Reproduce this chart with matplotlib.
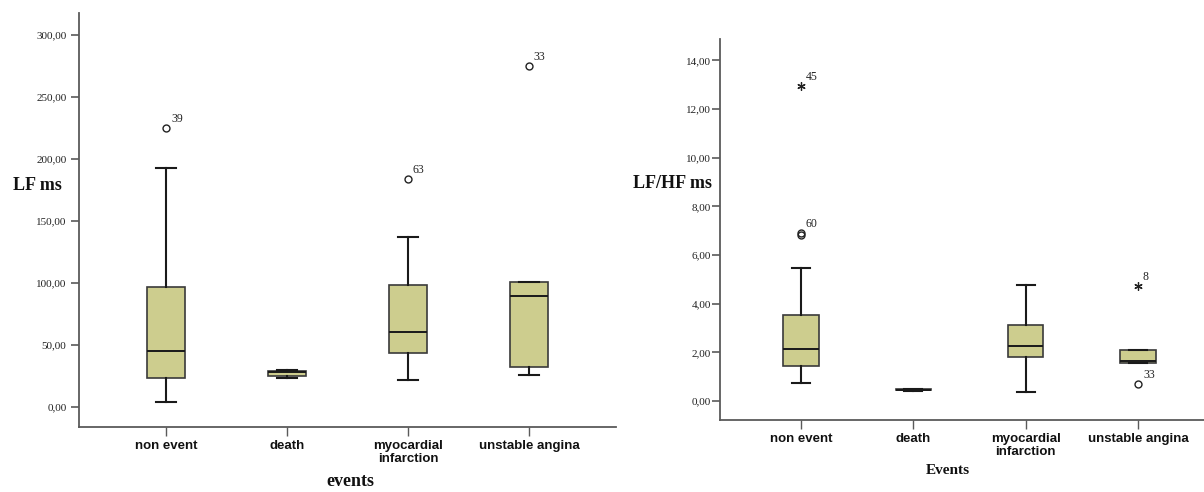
import matplotlib
matplotlib.use("Agg")
import matplotlib.pyplot as plt

# ---------------- data ----------------
categories = ['non event', 'death', 'myocardial\ninfarction', 'unstable angina']

# LF ms (left panel)
lf_whislo = [3.5, 23.2, 21.4, 25.2]
lf_q1 = [22.8, 25.0, 43.4, 32.1]
lf_med = [44.5, 27.8, 59.8, 89.4]
lf_q3 = [96.1, 28.6, 98.0, 100.4]
lf_whishi = [192.6, 29.3, 136.5, 100.8]
lf_out_cat = [0, 2, 3]
lf_out_val = [224.6, 183.5, 274.6]
lf_out_lab = ['39', '63', '33']
lf_out_mark = ['o', 'o', 'o']
lf_ticks = [0, 50, 100, 150, 200, 250, 300]

# LF/HF ms (right panel)
lh_whislo = [0.75, 0.43, 0.36, 1.55]
lh_q1 = [1.45, 0.44, 1.80, 1.55]
lh_med = [2.15, 0.46, 2.25, 1.66]
lh_q3 = [3.53, 0.49, 3.12, 2.10]
lh_whishi = [5.48, 0.51, 4.77, 2.10]
lh_out_cat = [0, 0, 0, 3, 3]
lh_out_val = [12.96, 6.92, 6.84, 4.74, 0.70]
lh_out_lab = ['45', '60', '', '8', '33']
lh_out_mark = ['*', 'o', 'o', '*', 'o']
lh_ticks = [0, 2, 4, 6, 8, 10, 12, 14]

# ---------------- style ----------------
W, H = 1204, 492
BOX_FILL = '#cdcd8e'
EDGE = '#3a3a3a'
SPINE = '#5a5a5a'
SERIF = 'Liberation Serif'
SANS = 'Liberation Sans'

fig = plt.figure(figsize=(W / 100, H / 100), dpi=100)
fig.patch.set_facecolor('white')


def px_axes(x0, x1, ytop, ybot):
    return fig.add_axes([x0 / W, 1 - ybot / H, (x1 - x0) / W, (ybot - ytop) / H])


def draw_panel(ax, whislo, q1, med, q3, whishi, out_cat, out_val, out_lab,
               out_mark, ticks, xlim, ylim, width, tick_pad):
    stats = []
    for i in range(len(categories)):
        stats.append(dict(whislo=whislo[i], q1=q1[i], med=med[i], q3=q3[i],
                          whishi=whishi[i], fliers=[], label=categories[i]))
    pos = list(range(len(categories)))
    ax.bxp(stats, positions=pos, widths=width, showfliers=False,
           patch_artist=True, capwidths=width / 2,
           boxprops=dict(facecolor=BOX_FILL, edgecolor=EDGE, linewidth=1.2),
           medianprops=dict(color='#1a1a1a', linewidth=1.4),
           whiskerprops=dict(color='#1a1a1a', linewidth=1.5),
           capprops=dict(color='#1a1a1a', linewidth=1.5))
    for c, v, lab, m in zip(out_cat, out_val, out_lab, out_mark):
        if m == 'o':
            ax.plot(c, v, marker='o', markersize=5, markerfacecolor='none',
                    markeredgecolor='#222222', markeredgewidth=1.0,
                    linestyle='none', clip_on=False)
        else:
            ax.plot(c, v, marker=(6, 2, 0), markersize=6,
                    markeredgecolor='#222222', markeredgewidth=0.9,
                    linestyle='none', clip_on=False)
        if lab:
            ax.annotate(lab, (c, v), xytext=(3.5, 6.5), textcoords='offset points',
                        ha='left', va='center', fontsize=8.5, family=SERIF,
                        color='#222222')
    ax.set_xlim(*xlim)
    ax.set_ylim(*ylim)
    ax.set_yticks(ticks)
    ax.set_yticklabels([('%.2f' % t).replace('.', ',') for t in ticks],
                       fontsize=8, family=SERIF, color='#222222')
    ax.set_xticks(pos)
    ax.set_xticklabels(categories, fontsize=9.5, family=SANS, fontweight='bold',
                       color='#111111', linespacing=1.05)
    for s in ('top', 'right'):
        ax.spines[s].set_visible(False)
    for s in ('left', 'bottom'):
        ax.spines[s].set_color(SPINE)
        ax.spines[s].set_linewidth(1.3)
    ax.tick_params(axis='y', direction='out', length=6, width=1.2,
                   color=SPINE, pad=tick_pad)
    ax.tick_params(axis='x', direction='out', length=6.5, width=1.0,
                   color=SPINE, pad=3)
    ax.set_facecolor('white')


ax1 = px_axes(79, 616, 12.7, 427)
draw_panel(ax1, lf_whislo, lf_q1, lf_med, lf_q3, lf_whishi,
           lf_out_cat, lf_out_val, lf_out_lab, lf_out_mark, lf_ticks,
           xlim=(-0.72, 3.72), ylim=(-16.5, 317.6), width=0.32, tick_pad=3)

ax2 = px_axes(720, 1204, 39.3, 420)
draw_panel(ax2, lh_whislo, lh_q1, lh_med, lh_q3, lh_whishi,
           lh_out_cat, lh_out_val, lh_out_lab, lh_out_mark, lh_ticks,
           xlim=(-0.72, 3.586), ylim=(-0.78, 14.87), width=0.315, tick_pad=0.5)

# axis titles
fig.text(12.7 / W, 1 - 185.7 / H, 'LF ms', ha='left', va='center',
         fontsize=13, family=SERIF, fontweight='bold', color='#111111')
fig.text(711.7 / W, 1 - 183.3 / H, 'LF/HF ms', ha='right', va='center',
         fontsize=13, family=SERIF, fontweight='bold', color='#111111')
fig.text(350 / W, 1 - 482 / H, 'events', ha='center', va='center',
         fontsize=13, family=SERIF, fontweight='bold', color='#111111')
fig.text(947.5 / W, 1 - 471 / H, 'Events', ha='center', va='center',
         fontsize=11, family=SERIF, fontweight='bold', color='#111111')

fig.savefig('out.png', dpi=100, facecolor='white')
